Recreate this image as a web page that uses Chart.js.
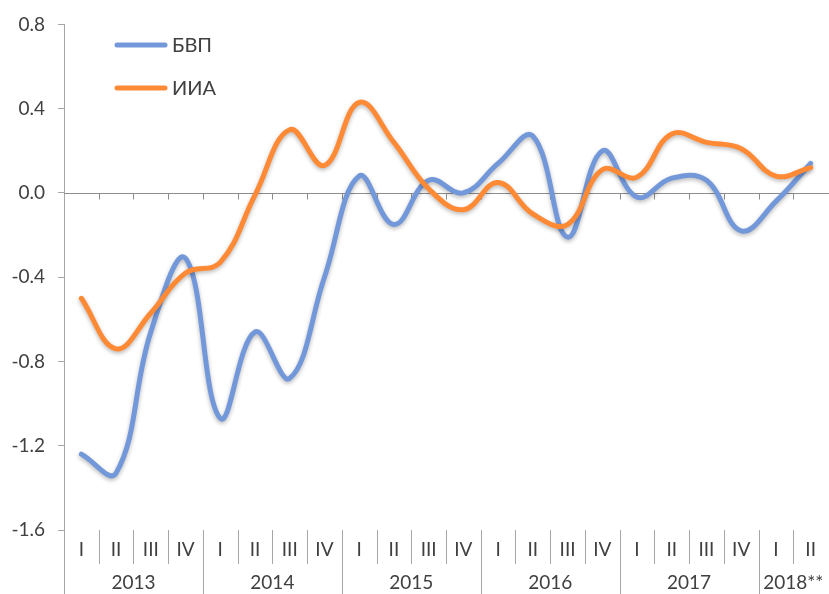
<!DOCTYPE html>
<html>
<head>
<meta charset="utf-8">
<script src="https://cdn.jsdelivr.net/npm/chart.js@4.4.0/dist/chart.umd.min.js"></script>
<style>
    html, body { margin: 0; padding: 0; background: #fff; }
    #wrap { width: 829px; height: 594px; position: relative; }
</style>
</head>
<body>
<div id="wrap"><canvas id="chart"></canvas></div>
<script>
// Quarter labels, year groups and both series
const quarters = ['I', 'II', 'III', 'IV', 'I', 'II', 'III', 'IV', 'I', 'II', 'III', 'IV',
    'I', 'II', 'III', 'IV', 'I', 'II', 'III', 'IV', 'I', 'II'];
const years = ['2013', '2014', '2015', '2016', '2017', '2018**'];
const quartersPerYear = [4, 4, 4, 4, 4, 2];

const gdp = [-1.24, -1.33, -0.66, -0.31, -1.07, -0.66, -0.88, -0.40, 0.08, -0.15, 0.06, 0.00,
    0.14, 0.27, -0.21, 0.20, -0.02, 0.07, 0.06, -0.18, -0.04, 0.14];
const iia = [-0.50, -0.74, -0.57, -0.38, -0.33, -0.01, 0.30, 0.13, 0.43, 0.24, 0.02, -0.08,
    0.05, -0.10, -0.15, 0.11, 0.075, 0.28, 0.24, 0.21, 0.08, 0.12];

const yMin = -1.6;
const yMax = 0.8;
const yStep = 0.4;

const textColor = '#404040';
const axisColor = '#A6A6A6';
const fontFamily = 'Lato, "Open Sans", sans-serif';

// Axis at zero, quarter/year labels and legend
const excelAxes = {
    id: 'excelAxes',
    beforeDatasetsDraw(chart) {
        const ctx = chart.ctx;
        const x = chart.scales.x;
        const y = chart.scales.y;
        const area = chart.chartArea;
        const y0 = Math.round(y.getPixelForValue(0)) + 0.5;
        const w = x.getPixelForValue(1) - x.getPixelForValue(0);
        ctx.save();
        ctx.strokeStyle = '#8C8C8C';
        ctx.lineWidth = 1;
        ctx.beginPath();
        ctx.moveTo(area.left, y0);
        ctx.lineTo(area.right + 1, y0);
        for (let i = 1; i < quarters.length; i++) {
            const bx = Math.round(x.getPixelForValue(i) - w / 2) + 0.5;
            ctx.moveTo(bx, y0);
            ctx.lineTo(bx, y0 + 6);
        }
        ctx.stroke();
        ctx.restore();
    },
    beforeDatasetDraw(chart) {
        const ctx = chart.ctx;
        ctx.save();
        ctx.shadowColor = 'rgba(0,0,0,0.28)';
        ctx.shadowBlur = 4;
        ctx.shadowOffsetY = 2;
    },
    afterDatasetDraw(chart) {
        chart.ctx.restore();
    },
    afterDraw(chart) {
        const ctx = chart.ctx;
        const x = chart.scales.x;
        const area = chart.chartArea;
        const w = x.getPixelForValue(1) - x.getPixelForValue(0);
        const bottom = chart.height;
        ctx.save();
        ctx.strokeStyle = axisColor;
        ctx.lineWidth = 1;
        ctx.beginPath();
        const lx = Math.round(area.left) + 0.5;
        ctx.moveTo(lx, area.bottom);
        ctx.lineTo(lx, bottom);
        const yearStarts = [];
        let acc = 0;
        quartersPerYear.forEach(n => { yearStarts.push(acc); acc += n; });
        for (let i = 1; i < quarters.length; i++) {
            const bx = Math.round(x.getPixelForValue(i) - w / 2) + 0.5;
            ctx.moveTo(bx, area.bottom);
            ctx.lineTo(bx, yearStarts.includes(i) ? bottom : area.bottom + 34);
        }
        ctx.stroke();

        ctx.fillStyle = textColor;
        ctx.font = '19px ' + fontFamily;
        ctx.textAlign = 'center';
        ctx.textBaseline = 'middle';
        quarters.forEach((q, i) => {
            ctx.fillText(q, x.getPixelForValue(i), area.bottom + 20);
        });
        years.forEach((yr, k) => {
            const first = yearStarts[k];
            const last = first + quartersPerYear[k] - 1;
            const cx = (x.getPixelForValue(first) + x.getPixelForValue(last)) / 2;
            ctx.fillText(yr, cx, area.bottom + 53);
        });

        // legend inside the plot
        ctx.textAlign = 'left';
        ctx.font = '20px ' + fontFamily;
        chart.data.datasets.forEach((ds, k) => {
            const ly = 45 + k * 43;
            ctx.strokeStyle = ds.borderColor;
            ctx.lineWidth = 5;
            ctx.lineCap = 'round';
            ctx.beginPath();
            ctx.moveTo(117, ly);
            ctx.lineTo(165, ly);
            ctx.stroke();
            ctx.fillText(ds.label, 172, ly + 1);
        });
        ctx.restore();
    }
};

new Chart(document.getElementById('chart'), {
    type: 'line',
    data: {
        labels: quarters,
        datasets: [
            {
                label: 'БВП',
                data: gdp,
                borderColor: '#7398DA',
                borderWidth: 5,
                order: 1
            },
            {
                label: 'ИИА',
                data: iia,
                borderColor: '#FF8A35',
                borderWidth: 5,
                order: 0
            }
        ]
    },
    options: {
        responsive: true,
        maintainAspectRatio: false,
        animation: false,
        layout: { padding: { top: 22, right: 1, bottom: 64, left: 0 } },
        elements: {
            line: { tension: 0.4, borderCapStyle: 'round', borderJoinStyle: 'round' },
            point: { radius: 0, hoverRadius: 0 }
        },
        plugins: {
            legend: { display: false },
            tooltip: { enabled: false }
        },
        scales: {
            x: {
                type: 'category',
                offset: true,
                display: false
            },
            y: {
                min: yMin,
                max: yMax,
                afterFit: (scale) => { scale.width = 64; },
                ticks: {
                    stepSize: yStep,
                    color: textColor,
                    padding: 13,
                    font: { family: fontFamily, size: 19 },
                    callback: (v) => Number(v).toFixed(1)
                },
                grid: {
                    drawOnChartArea: false,
                    drawTicks: true,
                    tickLength: 6,
                    color: axisColor
                },
                border: { display: true, color: axisColor }
            }
        }
    },
    plugins: [excelAxes]
});
</script>
</body>
</html>
